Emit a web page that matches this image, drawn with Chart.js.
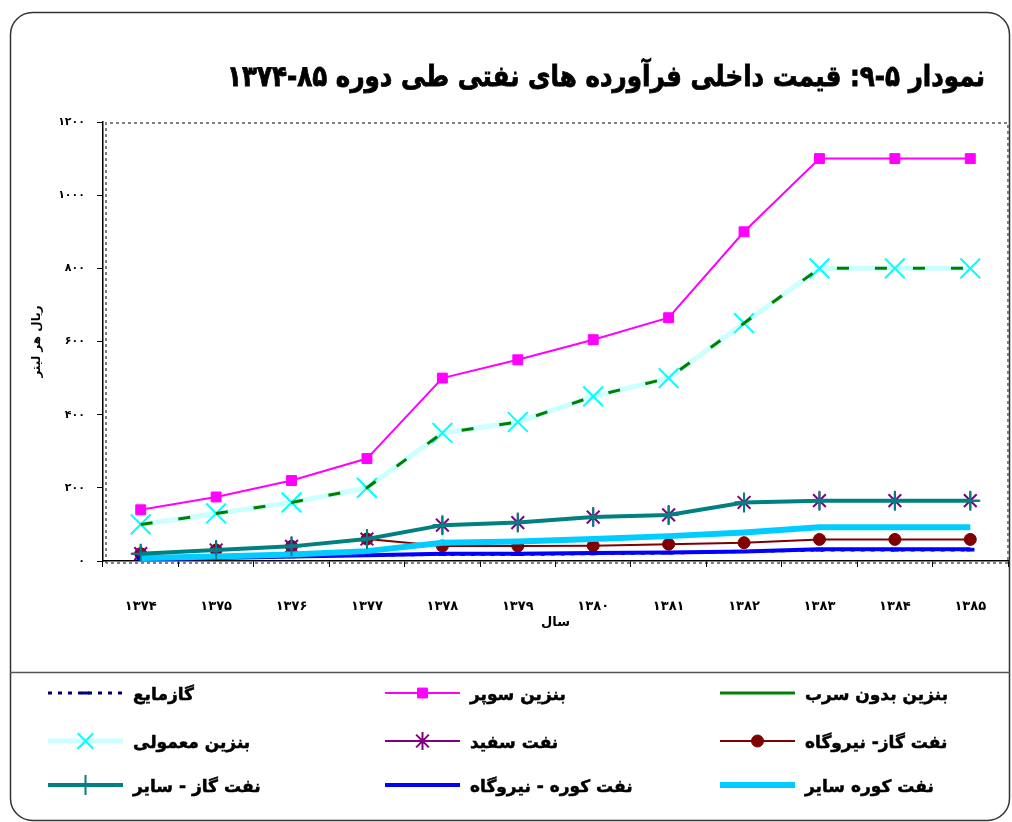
<!DOCTYPE html>
<html lang="fa">
<head>
<meta charset="utf-8">
<title>نمودار ۵-۹</title>
<script src="https://cdn.jsdelivr.net/npm/chart.js@4.4.1/dist/chart.umd.min.js"></script>
<style>
  html, body { margin: 0; padding: 0; background: #fff; }
  #wrap { position: relative; width: 1012px; height: 822px; }
</style>
</head>
<body>
<div id="wrap"><canvas id="chart" width="1012" height="822"></canvas></div>
<script>
// ===== داده ها =====
const years = ['۱۳۷۴', '۱۳۷۵', '۱۳۷۶', '۱۳۷۷', '۱۳۷۸', '۱۳۷۹', '۱۳۸۰', '۱۳۸۱', '۱۳۸۲', '۱۳۸۳', '۱۳۸۴', '۱۳۸۵'];

const lpg          = [8, 10, 12, 16, 18, 18, 20, 22, 26, 30, 30, 30];
const superGas     = [140, 175, 220, 280, 500, 550, 605, 665, 900, 1100, 1100, 1100];
const unleaded     = [100, 130, 160, 200, 350, 380, 450, 500, 650, 800, 800, 800];
const regularGas   = [100, 130, 160, 200, 350, 380, 450, 500, 650, 800, 800, 800];
const kerosene     = [20, 30, 40, 60, 98, 105, 120, 126, 160, 165, 165, 165];
const gasoilPower  = [20, 30, 40, 60, 41, 41, 42, 46, 50, 59, 59, 59];
const gasoilOther  = [20, 30, 40, 60, 98, 105, 120, 126, 160, 165, 165, 165];
const fuelOilPower = [5, 8, 12, 16, 20, 20, 22, 23, 26, 32, 32, 32];
const fuelOilOther = [8, 12, 18, 27, 50, 53, 60, 68, 78, 92, 92, 92];

const seriesNames = ['گازمایع', 'بنزین سوپر', 'بنزین بدون سرب',
                     'بنزین معمولی', 'نفت سفید', 'نفت گاز- نیروگاه',
                     'نفت گاز - سایر', 'نفت کوره - نیروگاه', 'نفت کوره سایر'];

const yMax = 1200;
const yStep = 200;

const chartTitle = 'نمودار ۵-۹: قیمت داخلی فرآورده های نفتی طی دوره ۸۵-۱۳۷۴';
const xTitle = 'سال';
const yTitle = 'ریال هر لیتر';

const FONT = "'DejaVu Sans', sans-serif";
const toFa = (v) => String(v).replace(/\d/g, d => '۰۱۲۳۴۵۶۷۸۹'[d]);

// ===== سری ها =====
const mk = (label, data, o) => Object.assign({
    label: label,
    data: data,
    fill: false,
    tension: 0,
    pointRadius: 0,
    pointHoverRadius: 0,
    borderDash: []
}, o);

const datasets = [
    mk(seriesNames[0], lpg, { borderColor: '#000080', borderWidth: 3, borderDash: [4, 6], order: 7,
        pointStyle: 'line', pointRadius: 4, pointBorderColor: '#000080', pointBorderWidth: 3 }),
    mk(seriesNames[1], superGas, { borderColor: '#ff00ff', borderWidth: 2, order: 1,
        pointStyle: 'rect', pointRadius: 7, pointBackgroundColor: '#ff00ff', pointBorderColor: '#ff00ff', pointBorderWidth: 1 }),
    mk(seriesNames[2], unleaded, { borderColor: '#008000', borderWidth: 3, borderDash: [12, 26], legendDash: [], order: 2 }),
    mk(seriesNames[3], regularGas, { borderColor: '#ccffff', borderWidth: 5, order: 3,
        pointStyle: 'crossRot', pointRadius: 14, pointBorderColor: '#00ffff', pointBorderWidth: 2 }),
    mk(seriesNames[4], kerosene, { borderColor: '#800080', borderWidth: 2, order: 8,
        pointStyle: 'star', pointRadius: 9, pointBorderColor: '#800080', pointBorderWidth: 2 }),
    mk(seriesNames[5], gasoilPower, { borderColor: '#800000', borderWidth: 2, order: 9,
        pointStyle: 'circle', pointRadius: 6, pointBackgroundColor: '#800000', pointBorderColor: '#800000', pointBorderWidth: 1 }),
    mk(seriesNames[6], gasoilOther, { borderColor: '#008080', borderWidth: 4, order: 4,
        pointStyle: 'cross', pointRadius: 10, pointBorderColor: '#008080', pointBorderWidth: 2 }),
    mk(seriesNames[7], fuelOilPower, { borderColor: '#0000ff', borderWidth: 4, order: 6,
        pointStyle: 'line', pointRadius: 4, pointBorderColor: '#0000ff', pointBorderWidth: 3 }),
    mk(seriesNames[8], fuelOilOther, { borderColor: '#00ccff', borderWidth: 6, order: 5 })
];

// ===== قاب، عنوان و کادر نمودار =====
const framePlugin = {
    id: 'framePlugin',
    beforeDraw(chart) {
        const ctx = chart.ctx;
        const a = chart.chartArea;
        ctx.save();
        ctx.fillStyle = '#fff';
        ctx.fillRect(0, 0, chart.width, chart.height);

        // قاب گرد
        ctx.strokeStyle = '#333';
        ctx.lineWidth = 1.5;
        ctx.beginPath();
        ctx.roundRect(10.5, 12.5, 999, 808, 22);
        ctx.stroke();

        // خط جدا کننده راهنما
        ctx.beginPath();
        ctx.moveTo(10, 672.5);
        ctx.lineTo(1010, 672.5);
        ctx.lineWidth = 1.5;
        ctx.strokeStyle = '#555';
        ctx.stroke();

        // عنوان
        ctx.fillStyle = '#000';
        ctx.strokeStyle = '#000';
        ctx.lineWidth = 0.8;
        ctx.font = 'bold 29px ' + FONT;
        ctx.direction = 'rtl';
        ctx.textAlign = 'right';
        ctx.textBaseline = 'middle';
        ctx.fillText(chartTitle, 985, 78, 758);
        ctx.strokeText(chartTitle, 985, 78, 758);

        // کادر نقطه چین ناحیه رسم
        ctx.direction = 'ltr';
        ctx.strokeStyle = '#808080';
        ctx.lineWidth = 2;
        ctx.setLineDash([3, 3]);
        ctx.beginPath();
        ctx.moveTo(a.left + 3, a.bottom + 2);
        ctx.lineTo(a.left + 3, a.top + 1);
        ctx.lineTo(a.right, a.top + 1);
        ctx.lineTo(a.right, a.bottom + 2);
        ctx.lineTo(a.left + 3, a.bottom + 2);
        ctx.stroke();
        ctx.restore();
    }
};

// ===== راهنما =====
const legendPlugin = {
    id: 'legendPlugin',
    afterDraw(chart) {
        const ctx = chart.ctx;
        const colX = [48, 385, 720];
        const rowY = [693, 741, 785];
        const sampleW = 75;
        const helpers = Chart.helpers;

        chart.data.datasets.forEach((ds, i) => {
            const x0 = colX[i % 3];
            const y = rowY[Math.floor(i / 3)];
            ctx.save();
            ctx.strokeStyle = ds.borderColor;
            ctx.lineWidth = ds.borderWidth;
            ctx.setLineDash(ds.legendDash || ds.borderDash || []);
            ctx.beginPath();
            ctx.moveTo(x0, y);
            ctx.lineTo(x0 + sampleW, y);
            ctx.stroke();
            ctx.setLineDash([]);

            if (ds.pointRadius > 0 && helpers && helpers.drawPoint) {
                ctx.strokeStyle = ds.pointBorderColor || ds.borderColor;
                ctx.fillStyle = ds.pointBackgroundColor || ds.borderColor;
                ctx.lineWidth = ds.pointBorderWidth;
                helpers.drawPoint(ctx, {
                    pointStyle: ds.pointStyle,
                    radius: Math.min(ds.pointRadius, 11),
                    rotation: 0,
                    borderWidth: ds.pointBorderWidth
                }, x0 + sampleW / 2, y);
            }

            ctx.fillStyle = '#000';
            ctx.strokeStyle = '#000';
            ctx.lineWidth = 0.5;
            ctx.font = 'bold 17px ' + FONT;
            ctx.direction = 'rtl';
            ctx.textAlign = 'left';
            ctx.textBaseline = 'middle';
            ctx.fillText(ds.label, x0 + sampleW + 10, y + 3);
            ctx.strokeText(ds.label, x0 + sampleW + 10, y + 3);
            ctx.restore();
        });
    }
};

// ===== نمودار =====
Chart.defaults.font.family = FONT;
Chart.defaults.color = '#000';

new Chart(document.getElementById('chart'), {
    type: 'line',
    data: { labels: years, datasets: datasets },
    options: {
        responsive: false,
        animation: false,
        events: [],
        layout: { autoPadding: false, padding: { top: 122, right: 4, bottom: 191, left: 0 } },
        plugins: {
            legend: { display: false },
            title: { display: false },
            tooltip: { enabled: false }
        },
        scales: {
            x: {
                offset: true,
                grid: { offset: true, drawOnChartArea: false, drawTicks: true, tickLength: 6, color: '#000', lineWidth: 1 },
                border: { display: true, color: '#000', width: 1.5 },
                ticks: { padding: 32, maxRotation: 0, font: { size: 13, weight: 'bold' }, color: '#000' },
                title: { display: true, text: xTitle, font: { size: 13, weight: 'bold' }, padding: { top: 0, bottom: 1 } },
                afterFit(scale) {
                    scale.height = 70;
                    scale.paddingLeft = 0;
                    scale.paddingRight = 0;
                }
            },
            y: {
                min: 0,
                max: yMax,
                ticks: {
                    stepSize: yStep,
                    padding: 12,
                    font: { size: 11, weight: 'bold' },
                    color: '#000',
                    callback: (v) => toFa(v)
                },
                grid: { drawOnChartArea: false, drawTicks: true, tickLength: 6, color: '#000' },
                border: { display: true, color: '#000', width: 1.5 },
                title: { display: true, text: yTitle, font: { size: 12, weight: 'bold' }, padding: { top: 30, bottom: 0 } },
                afterFit(scale) { scale.width = 103; }
            }
        }
    },
    plugins: [framePlugin, legendPlugin]
});
</script>
</body>
</html>
